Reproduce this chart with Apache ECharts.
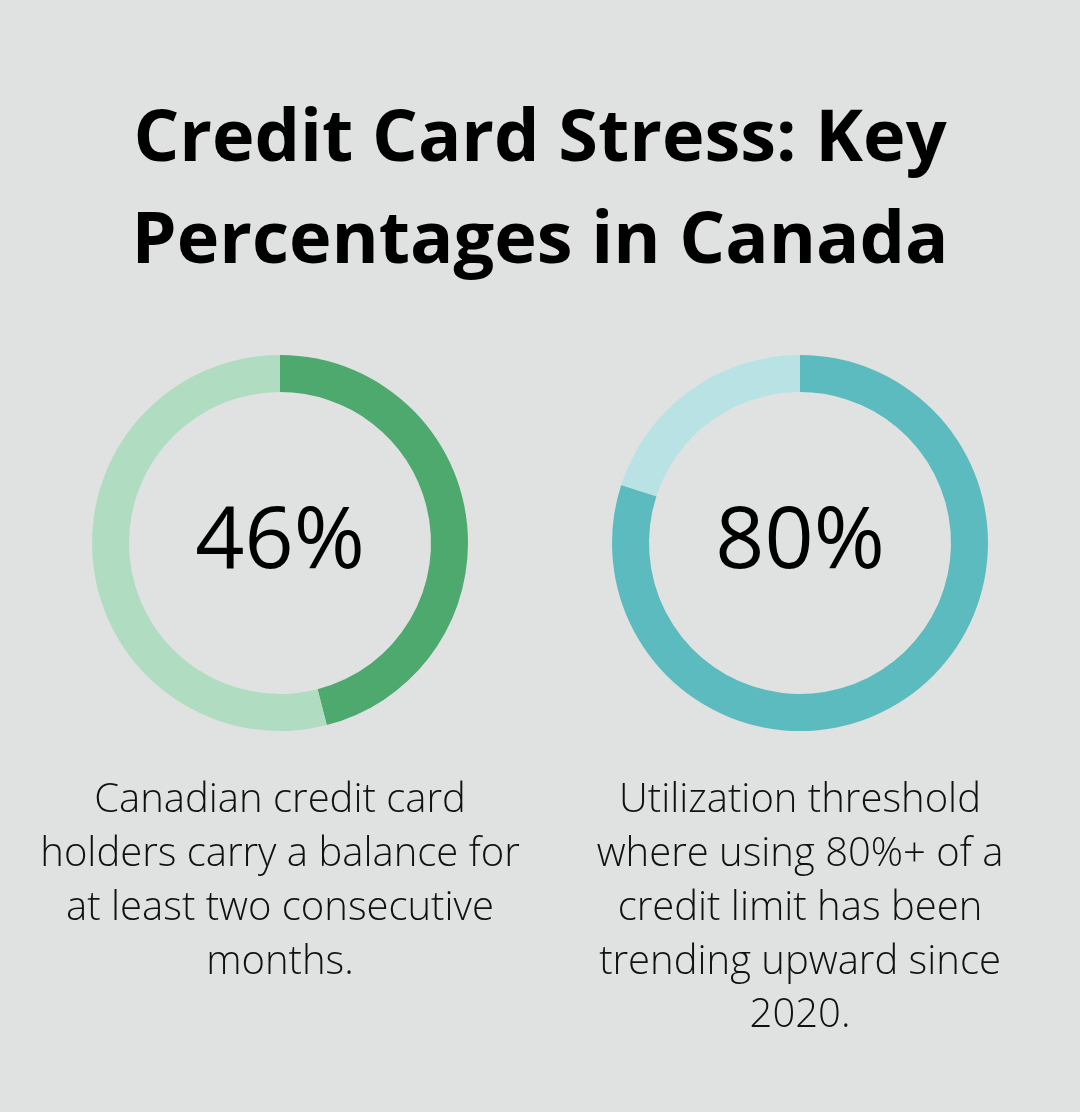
<!DOCTYPE html>
<html>
<head>
<meta charset="utf-8">
<script src="https://cdn.jsdelivr.net/npm/echarts@6/dist/echarts.min.js"></script>
<style>
html,body{margin:0;padding:0;background:#e0e2e1;}
#chart{width:1080px;height:1112px;}
</style>
</head>
<body>
<div id="chart"></div>
<script>
var titleLines = ['Credit Card Stress: Key', 'Percentages in Canada'];
var metricNames = ['Carry balance 2+ months', 'Utilization 80%+'];
var metricValues = [46, 80];
var descriptions = [
  'Canadian credit card\nholders carry a balance for\nat least two consecutive\nmonths.',
  'Utilization threshold\nwhere using 80%+ of a\ncredit limit has been\ntrending upward since\n2020.'
];
var mainColors = ['#4ea96e', '#5bbbbf'];
var restColors = ['#b0dcc2', '#b8e2e4'];
var centersX = [280, 800];

var chart = echarts.init(document.getElementById('chart'), null, {renderer: 'canvas'});

var series = metricValues.map(function (v, i) {
  return {
    type: 'pie',
    center: [centersX[i], 543],
    radius: [151, 188],
    startAngle: 90,
    clockwise: true,
    silent: true,
    animation: false,
    labelLine: {show: false},
    emphasis: {disabled: true},
    data: [
      {
        name: metricNames[i], value: v,
        itemStyle: {color: mainColors[i]},
        label: {
          show: true, position: 'center',
          formatter: v + '%',
          fontFamily: 'Open Sans', fontSize: 86, fontWeight: 'normal', color: '#000'
        }
      },
      {
        name: 'rest', value: 100 - v,
        itemStyle: {color: restColors[i]},
        label: {show: false}
      }
    ]
  };
});

var titles = [{
  text: titleLines.join('\n'),
  left: 540, top: 89, textAlign: 'center', padding: 0,
  textStyle: {fontFamily: 'Open Sans', fontSize: 72, fontWeight: 'bold', color: '#000', lineHeight: 102}
}];
descriptions.forEach(function (d, i) {
  titles.push({
    text: d,
    left: centersX[i], top: 774, textAlign: 'center', padding: 0,
    textStyle: {fontFamily: 'Open Sans', fontSize: 40, fontWeight: 300, color: '#111', lineHeight: 53.8}
  });
});

chart.setOption({
  backgroundColor: '#e0e2e1',
  animation: false,
  title: titles,
  series: series
});
</script>
</body>
</html>
